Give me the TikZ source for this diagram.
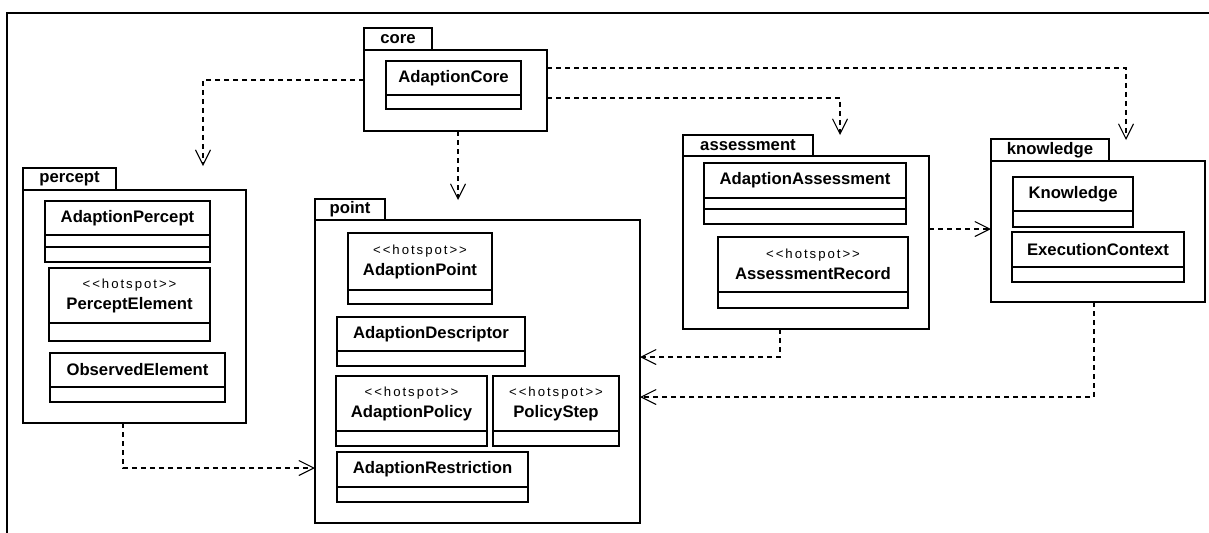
\documentclass[tikz,border=0pt]{standalone}
\usepackage{fontspec}
\setmainfont{Liberation Sans}
\newfontfamily\stfont[LetterSpace=15]{Liberation Sans}
\usetikzlibrary{arrows.meta,calc}
\newcommand\hs{{\stfont\mdseries\fontsize{7.5}{12}\selectfont <{}<hotspot>{}>}\\}
\begin{document}
\begin{tikzpicture}[x=.02cm, y=-.02cm, line join=miter,
	pkg/.style={draw, line width=1.1pt, outer sep=0, inner sep=0, anchor=north west},
	tab/.style={pkg, anchor=south west, font=\fontsize{9.5}{12}\selectfont\bfseries},
	ctext/.style={inner sep=0, align=center, font=\fontsize{9.5}{12}\selectfont\bfseries},
	dep/.style={line width=.6pt, dash pattern=on .1cm off .08cm, -{Straight Barb[length=.3cm,width=.3cm]}}]
	\def\px{.02cm}
	\useasboundingbox (0,0) rectangle (1209,532);
	\draw[line width=1.1pt] (7,545) |- (1220,13);
	\foreach \n/\x/\y/\w/\h/\tw/\th/\l in {pCore/364/50/183/81/68/22/core, pPercept/23/190/223/233/93/22/percept,
		pPoint/315/220/325/303/70/21/point, pAssess/683/156/246/173/130/21/assessment, pKnow/991/161/214/141/118/22/knowledge}{
		\node[pkg, minimum width=\w*\px, minimum height=\h*\px] (\n) at (\x,\y) {};
		\node[tab, minimum width=\tw*\px, minimum height=\th*\px] (\n-tab) at (\n.north west) {\l};
	}
	\foreach \n/\x/\y/\w/\h/\m/\dl/\t in {cCore/386/61/135/48/34/{34}/AdaptionCore,
		cPercept/45/201/165/61/34/{34,46}/AdaptionPercept, cPerElem/49/268/161/73/55/{55}/\hs PerceptElement,
		cObserved/50/353/175/49/34/{34}/ObservedElement, cPoint/348/233/144/71/57/{57}/\hs AdaptionPoint,
		cDescr/337/317/188/49/34/{34}/AdaptionDescriptor, cPolicy/336/376/151/70/55/{55}/\hs AdaptionPolicy,
		cStep/493/376/126/70/55/{55}/\hs PolicyStep, cRestr/337/452/191/50/35/{35}/AdaptionRestriction,
		cAssess/704/163/202/61/35/{35,46}/AdaptionAssessment, cRecord/718/237/190/71/55/{55}/\hs AssessmentRecord,
		cKnow/1013/177/120/50/34/{34}/Knowledge, cExec/1012/232/172/50/35/{35}/ExecutionContext}{
		\node[pkg, minimum width=\w*\px, minimum height=\h*\px] (\n) at (\x,\y) {};
		\foreach \d in \dl \draw[line width=.6pt] ($(\n.north west)+(0,\d)$) -- ($(\n.north east)+(0,\d)$);
		\node[ctext] (\n-t) at ($(\n.north)+(0,\m/2)$) {\t};
	}
	\coordinate (aPercept) at (203,166);
	\coordinate (aPoint) at (458,200);
	\coordinate (aAssess) at (840,135);
	\coordinate (aKnow) at (1126,140);
	\draw[dep] ($(pCore.north west)+(0,30)$) -| (aPercept);
	\draw[dep] ($(pCore.south west)+(94,0)$) -- (aPoint);
	\draw[dep] ($(pCore.north east)+(0,48)$) -| (aAssess);
	\draw[dep] ($(pCore.north east)+(0,18)$) -| (aKnow);
	\draw[dep] ($(pAssess.north east)+(0,73)$) coordinate (aToK) -- (aToK -| pKnow.west);
	\draw[dep] ($(pAssess.south west)+(97,0)$) |- ($(pPoint.north east)+(0,137)$);
	\draw[dep] ($(pKnow.south west)+(103,0)$) |- ($(pPoint.north east)+(0,177)$);
	\draw[dep] ($(pPercept.south west)+(100,0)$) |- ($(pPoint.north west)+(0,248)$);
\end{tikzpicture}
\end{document}
